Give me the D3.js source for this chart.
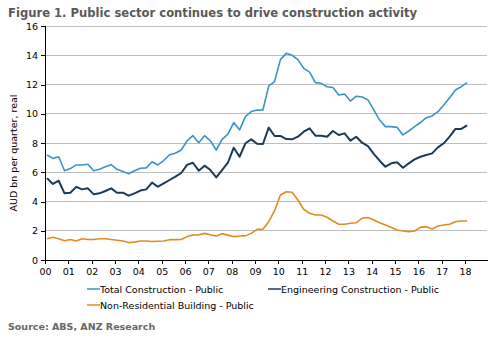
<!DOCTYPE html>
<html><head><meta charset="utf-8">
<script src="https://cdn.jsdelivr.net/npm/d3@7"></script>
<style>
body{margin:0;background:#fff;}
svg{display:block;font-family:"DejaVu Sans",Verdana,sans-serif;}
</style></head>
<body><svg id="c" width="493" height="339"></svg>
<script>
const yearTicks = ["00","01","02","03","04","05","06","07","08","09","10","11","12","13","14","15","16","17","18"];
const yTicks = [0,2,4,6,8,10,12,14,16];
const seriesNames = ["Total Construction - Public","Engineering Construction - Public","Non-Residential Building - Public"];
const seriesColors = ["#3b94c4","#1b3a56","#e38b22"];
const totalConstruction = [7.18,6.95,7.06,6.1,6.25,6.5,6.5,6.55,6.1,6.2,6.38,6.52,6.2,6.05,5.9,6.1,6.27,6.3,6.72,6.5,6.8,7.2,7.3,7.52,8.15,8.5,8.02,8.5,8.15,7.52,8.25,8.6,9.4,8.9,9.8,10.15,10.25,10.26,11.9,12.2,13.7,14.13,14.0,13.7,13.1,12.85,12.13,12.08,11.85,11.8,11.28,11.35,10.87,11.2,11.15,10.95,10.26,9.57,9.12,9.12,9.07,8.55,8.82,9.12,9.4,9.73,9.85,10.14,10.6,11.1,11.62,11.85,12.13];
const engineering = [5.6,5.2,5.42,4.56,4.6,5.0,4.83,4.9,4.49,4.56,4.72,4.9,4.6,4.6,4.4,4.56,4.75,4.83,5.29,5.01,5.24,5.47,5.7,5.95,6.5,6.65,6.11,6.45,6.15,5.65,6.15,6.65,7.68,7.06,7.98,8.25,7.95,7.93,9.05,8.48,8.48,8.27,8.25,8.43,8.77,9.0,8.5,8.5,8.43,8.82,8.55,8.66,8.16,8.43,8.02,7.79,7.25,6.79,6.38,6.61,6.68,6.31,6.61,6.88,7.06,7.18,7.29,7.7,7.98,8.43,8.96,8.96,9.21];
const nonResidential = [1.45,1.55,1.45,1.32,1.4,1.3,1.45,1.4,1.4,1.45,1.45,1.4,1.35,1.3,1.19,1.22,1.3,1.3,1.26,1.28,1.3,1.39,1.39,1.4,1.6,1.71,1.72,1.82,1.72,1.64,1.8,1.7,1.6,1.64,1.65,1.82,2.1,2.1,2.62,3.37,4.44,4.67,4.63,4.1,3.47,3.19,3.08,3.08,2.92,2.67,2.44,2.44,2.51,2.55,2.85,2.9,2.74,2.55,2.39,2.23,2.05,1.98,1.94,1.98,2.23,2.28,2.12,2.32,2.39,2.44,2.62,2.67,2.67];

const svg = d3.select("#c");
const L = 45, R = 487, T = 26, B = 260;
const x = d3.scaleLinear().domain([2000, 2018.94]).range([L, R]);
const y = d3.scaleLinear().domain([0, 16]).range([B, T]);
const qDate = i => 2000 + (i + 0.35) / 4;

// title
svg.append("text").attr("x", 8).attr("y", 17).attr("fill", "#595959")
  .attr("font-weight", "bold").attr("font-size", 12.2)
  .attr("textLength", 409).attr("lengthAdjust", "spacingAndGlyphs")
  .text("Figure 1. Public sector continues to drive construction activity");

// gridlines
svg.append("g").selectAll("line").data(yTicks.filter(d => d > 0)).join("line")
  .attr("x1", L).attr("x2", R).attr("y1", d => y(d)).attr("y2", d => y(d))
  .attr("stroke", "#bfbfbf").attr("stroke-width", 1).attr("shape-rendering", "crispEdges");

// y axis
const yAxis = svg.append("g").attr("transform", `translate(${L},0)`)
  .call(d3.axisLeft(y).tickValues(yTicks).tickSize(4).tickPadding(3));
yAxis.select(".domain").attr("stroke", "#000").attr("shape-rendering", "crispEdges");
yAxis.selectAll(".tick line").attr("stroke", "#000").attr("shape-rendering", "crispEdges");
yAxis.selectAll("text").attr("font-size", 9.5).attr("fill", "#000").attr("font-family", "DejaVu Sans, sans-serif");

// x axis
const xAxis = svg.append("g").attr("transform", `translate(0,${B})`)
  .call(d3.axisBottom(x).tickValues(d3.range(2000, 2019)).tickFormat((d, i) => yearTicks[i]).tickSize(4).tickPadding(4).tickSizeOuter(0));
xAxis.select(".domain").attr("stroke", "#000").attr("shape-rendering", "crispEdges");
xAxis.selectAll(".tick line").attr("stroke", "#000").attr("shape-rendering", "crispEdges");
xAxis.selectAll("text").attr("font-size", 9.5).attr("fill", "#000").attr("font-family", "DejaVu Sans, sans-serif");

// y title
svg.append("text").attr("transform", "translate(17,153) rotate(-90)").attr("text-anchor", "middle")
  .attr("font-size", 9.5).attr("fill", "#000").text("AUD bn per quarter, real");

// lines
const line = d3.line().x((d, i) => x(qDate(i))).y(d => y(d));
[nonResidential, totalConstruction, engineering].forEach((s, k) => {
  const c = [seriesColors[2], seriesColors[0], seriesColors[1]][k];
  svg.append("path").datum(s).attr("d", line).attr("fill", "none")
    .attr("stroke", c).attr("stroke-width", k === 2 ? 2 : 1.6).attr("stroke-linejoin", "round");
});

// legend
const leg = [{i:0,x:87,y:289},{i:1,x:268,y:289},{i:2,x:87,y:305}];
leg.forEach(l => {
  svg.append("line").attr("x1", l.x).attr("x2", l.x + 13).attr("y1", l.y).attr("y2", l.y)
    .attr("stroke", seriesColors[l.i]).attr("stroke-width", 1.5);
  svg.append("text").attr("x", l.x + 13).attr("y", l.y + 3.5).attr("font-size", 9.5).attr("fill", "#000")
    .text(seriesNames[l.i]);
});

// source
svg.append("text").attr("x", 8).attr("y", 330).attr("font-size", 9.5).attr("fill", "#666")
  .attr("font-weight", "bold").text("Source: ABS, ANZ Research");
</script></body></html>
